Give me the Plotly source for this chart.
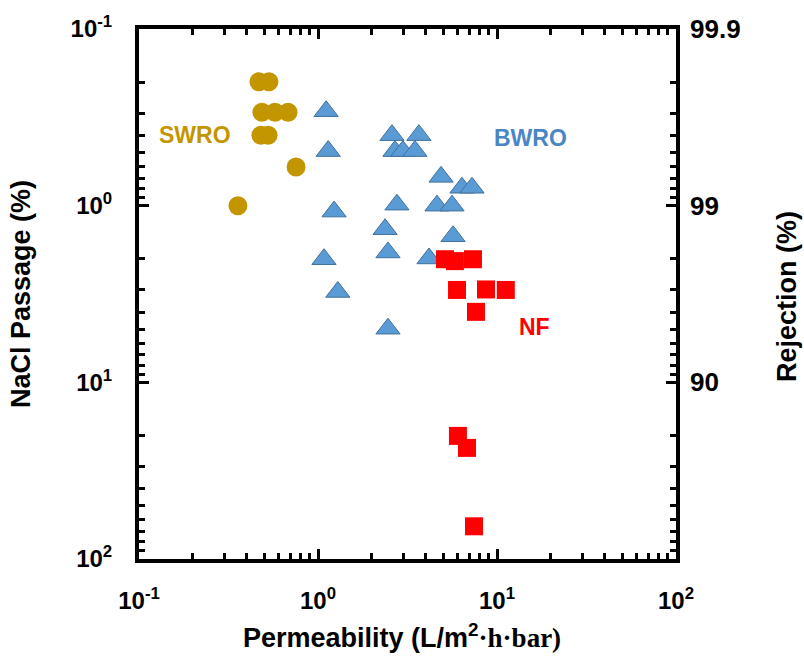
import math
import plotly.graph_objects as go

# Permeability (L/m2.h.bar) and NaCl passage (%) for each membrane class
swro_perm = [0.468, 0.532, 0.486, 0.575, 0.680, 0.480, 0.526, 0.754, 0.357]
swro_pass = [0.199, 0.199, 0.296, 0.296, 0.296, 0.399, 0.399, 0.604, 1.0]

bwro_perm = [1.11, 1.14, 2.59, 3.66, 2.69, 2.98, 3.48, 4.87, 6.37, 7.25,
             1.23, 2.76, 4.62, 5.61, 2.37, 2.46, 5.68, 1.08, 4.17, 1.29, 2.46]
bwro_pass = [0.292, 0.491, 0.399, 0.399, 0.491, 0.491, 0.491, 0.687, 0.792, 0.792,
             1.08, 0.987, 1.0, 1.0, 1.36, 1.84, 1.49, 2.01, 1.99, 3.08, 4.97]

nf_perm = [5.12, 5.82, 7.34, 5.98, 8.68, 11.2, 7.63, 6.05, 6.80, 7.44]
nf_pass = [2.01, 2.06, 2.01, 3.00, 2.98, 3.00, 3.99, 20.1, 23.5, 65.3]

major_vals = [0.1, 1, 10, 100]
x_tick_text = ["<b>10<sup>-1</sup></b>", "<b>10<sup>0</sup></b>", "<b>10<sup>1</sup></b>", "<b>10<sup>2</sup></b>"]
y_tick_text = ["<b>10<sup>-1</sup></b>", "<b>10<sup>0</sup></b>", "<b>10<sup>1</sup></b>", "<b>10<sup>2</sup></b>"]
rej_vals = [0.1, 1, 10]
rej_text = ["<b>99.9</b>", "<b>99</b>", "<b>90</b>"]
minor_vals = [m * d for d in (0.1, 1, 10) for m in range(2, 10)]

# group labels: (text, permeability, passage)
group_labels = [("SWRO", 0.206, 0.399), ("BWRO", 15.3, 0.415), ("NF", 16.3, 4.85)]

GOLD = "#C39600"
BLUE = "#5B9BD5"
RED = "#FF0000"
LABEL_COLORS = {"SWRO": GOLD, "BWRO": "#4A86C5", "NF": RED}
FONT = "Liberation Sans, Arial, sans-serif"

fig = go.Figure()
fig.add_trace(go.Scatter(x=swro_perm, y=swro_pass, mode="markers", name="SWRO",
                         marker=dict(symbol="circle", size=19, color=GOLD, line=dict(width=0))))
fig.add_trace(go.Scatter(x=bwro_perm, y=bwro_pass, mode="markers", name="BWRO",
                         marker=dict(symbol="triangle-up", size=21, color=BLUE,
                                     line=dict(width=1, color="#41719C"))))
fig.add_trace(go.Scatter(x=nf_perm, y=nf_pass, mode="markers", name="NF",
                         marker=dict(symbol="square", size=18, color=RED, line=dict(width=0))))
# invisible trace to anchor the rejection axis
fig.add_trace(go.Scatter(x=[1], y=[1], yaxis="y2", mode="markers",
                         marker=dict(opacity=0), hoverinfo="skip", showlegend=False))

tick_font = dict(family=FONT, size=24, color="black")
axis_common = dict(
    type="log", showgrid=False, zeroline=False,
    showline=True, linecolor="black", linewidth=4,
    ticks="inside", ticklen=10, tickwidth=3, tickcolor="black",
    tickfont=tick_font,
    minor=dict(tickvals=minor_vals, ticks="inside", ticklen=6, tickwidth=3,
               tickcolor="black", showgrid=False),
)

fig.update_layout(
    width=804, height=661,
    margin=dict(l=139, r=128, t=25, b=102),
    paper_bgcolor="white", plot_bgcolor="white",
    showlegend=False,
    font=dict(family=FONT, color="black"),
    xaxis=dict(**axis_common, range=[-1, 2], tickvals=major_vals, ticktext=x_tick_text,
               mirror="ticks", ticklabelstandoff=17),
    yaxis=dict(**axis_common, range=[2, -1], tickvals=major_vals, ticktext=y_tick_text,
               mirror="ticks", ticklabelstandoff=18),
    yaxis2=dict(type="log", overlaying="y", side="right", range=[2, -1],
                tickvals=rej_vals, ticktext=rej_text, ticks="", showline=False,
                showgrid=False, zeroline=False, tickfont=dict(family=FONT, size=26, color="black"),
                ticklabelstandoff=13),
)

# log axes take annotation positions in log10 units
for text, px, py in group_labels:
    fig.add_annotation(text=f"<b>{text}</b>", x=math.log10(px), y=math.log10(py),
                       xref="x", yref="y", xanchor="center", yanchor="middle",
                       showarrow=False,
                       font=dict(family=FONT, size=23, color=LABEL_COLORS[text]))

title_font = dict(family=FONT, size=27, color="black")
fig.add_annotation(text="<b>NaCl Passage (%)</b>", x=21, y=292, xref="paper", yref="paper",
                   showarrow=False, textangle=-90, xanchor="center", yanchor="middle",
                   font=title_font)
fig.add_annotation(text="<b>Rejection (%)</b>", x=787, y=295, xref="paper", yref="paper",
                   showarrow=False, textangle=-90, xanchor="center", yanchor="middle",
                   font=title_font)
fig.add_annotation(
    text="<b>Permeability (L/m<sup>2</sup></b><span style=\"font-family:'Liberation Serif', 'Times New Roman', serif\"><b>·h·bar)</b></span>",
    x=402, y=637, xref="paper", yref="paper", showarrow=False,
    xanchor="center", yanchor="middle", font=title_font)

# convert pixel positions of the title annotations into paper coordinates
plot_w = 804 - 139 - 128
plot_h = 661 - 25 - 102
for ann in fig.layout.annotations:
    if ann.xref == "paper":
        ann.x = (ann.x - 139) / plot_w
        ann.y = 1 - (ann.y - 25) / plot_h

fig.write_html("out.html")
